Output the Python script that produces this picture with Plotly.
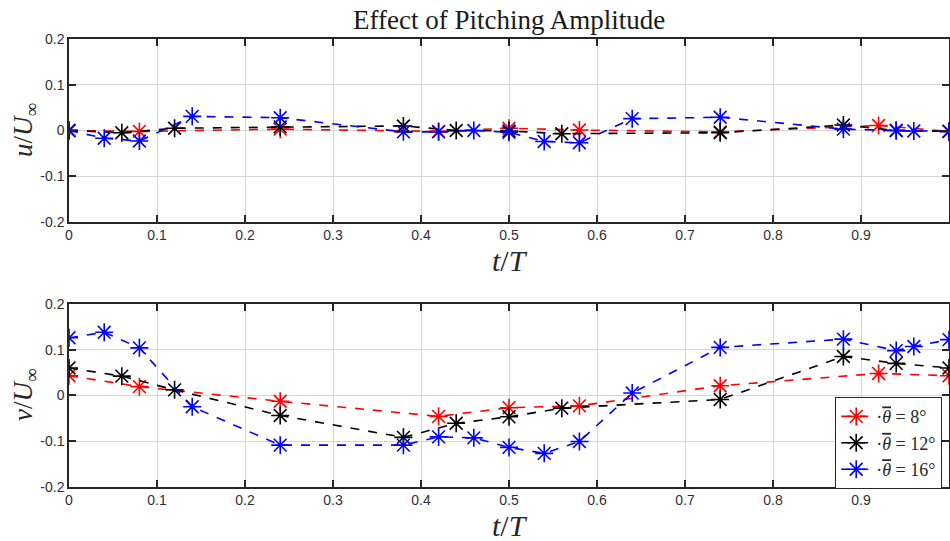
import plotly.graph_objects as go
from plotly.subplots import make_subplots

# Sample times (fraction of the pitching period) for each mean pitch angle
t_8 = [0.0, 0.08, 0.24, 0.42, 0.50, 0.58, 0.74, 0.92, 1.0]
t_12 = [0.0, 0.06, 0.12, 0.24, 0.38, 0.44, 0.50, 0.56, 0.74, 0.88, 0.94, 1.0]
t_16 = [0.0, 0.04, 0.08, 0.14, 0.24, 0.38, 0.42, 0.46, 0.50, 0.54, 0.58, 0.64,
        0.74, 0.88, 0.94, 0.96, 1.0]

# Streamwise velocity u/U_inf
u_8 = [0.0, -0.002, 0.003, -0.002, 0.005, 0.001, -0.003, 0.011, -0.002]
u_12 = [0.0, -0.005, 0.005, 0.008, 0.010, 0.0, -0.001, -0.007, -0.005, 0.012,
        0.0, -0.002]
u_16 = [0.0, -0.017, -0.023, 0.031, 0.028, -0.003, -0.003, 0.0, -0.004, -0.024,
        -0.027, 0.026, 0.029, 0.003, 0.0, -0.001, -0.002]

# Transverse velocity v/U_inf
v_8 = [0.043, 0.019, -0.013, -0.046, -0.027, -0.023, 0.021, 0.048, 0.043]
v_12 = [0.060, 0.042, 0.012, -0.044, -0.092, -0.061, -0.047, -0.028, -0.009,
        0.085, 0.070, 0.060]
v_16 = [0.126, 0.138, 0.104, -0.025, -0.109, -0.109, -0.091, -0.093, -0.114,
        -0.127, -0.101, 0.005, 0.105, 0.123, 0.098, 0.107, 0.122]

theta_bar = '<span style="text-decoration:overline"><i>\u03b8</i></span>'
series_names = ["\u00b7" + theta_bar + " = 8\u00b0",
                "\u00b7" + theta_bar + " = 12\u00b0",
                "\u00b7" + theta_bar + " = 16\u00b0"]
series_colors = ["#ff0000", "#000000", "#0000ff"]

x_ticks = [0, 0.1, 0.2, 0.3, 0.4, 0.5, 0.6, 0.7, 0.8, 0.9, 1.0]
x_ticktext = ["0", "0.1", "0.2", "0.3", "0.4", "0.5", "0.6", "0.7", "0.8", "0.9", "1"]
y_ticks = [-0.2, -0.1, 0, 0.1, 0.2]
y_ticktext = ["-0.2", "-0.1", "0", "0.1", "0.2"]

W, H = 950, 541
L, R = 69, 1


def py(px):
    return 1 - px / H


def pxx(px):
    return (px - L) / (W - L - R)


fig = make_subplots(rows=2, cols=1)

times = [t_8, t_12, t_16]
u_all = [u_8, u_12, u_16]
v_all = [v_8, v_12, v_16]

for row, data in ((1, u_all), (2, v_all)):
    for i in range(3):
        fig.add_trace(
            go.Scatter(
                x=times[i], y=data[i], mode="lines+markers",
                name=series_names[i],
                showlegend=(row == 2),
                line=dict(color=series_colors[i], width=1.6, dash="dash"),
                marker=dict(symbol="asterisk-open", size=15,
                            color=series_colors[i],
                            line=dict(color=series_colors[i], width=1.6)),
            ),
            row=row, col=1,
        )

axis_common = dict(
    showline=True, linecolor="#262626", linewidth=1.5, mirror="ticks",
    ticks="inside", ticklen=7, tickwidth=1.5, tickcolor="#262626",
    showgrid=True, gridcolor="#d6d6d6", gridwidth=1, zeroline=False,
    automargin=False,
    tickfont=dict(family="Liberation Sans, Arial", size=14, color="#303030"),
)

fig.update_xaxes(range=[0, 1], tickvals=x_ticks, ticktext=x_ticktext, **axis_common)
fig.update_yaxes(range=[-0.2, 0.2], tickvals=y_ticks, ticktext=y_ticktext, **axis_common)

fig.update_layout(
    width=W, height=H, autosize=False,
    margin=dict(l=L, r=R, t=0, b=0, pad=0, autoexpand=False),
    paper_bgcolor="white", plot_bgcolor="white",
    xaxis=dict(domain=[0, 1]),
    yaxis=dict(domain=[py(221.7), py(39.3)]),
    xaxis2=dict(domain=[0, 1]),
    yaxis2=dict(domain=[py(486.7), py(304.0)]),
    legend=dict(
        x=pxx(835), y=py(397), xanchor="left", yanchor="top",
        bgcolor="white", bordercolor="#262626", borderwidth=1.2,
        font=dict(family="Liberation Serif, serif", size=18, color="#262626"),
        tracegroupgap=0, itemwidth=30,
    ),
    showlegend=True,
)

serif = "Liberation Serif, DejaVu Serif, serif"
annotations = [
    dict(text="Effect of Pitching Amplitude", x=0.5, y=py(20), xref="paper", yref="paper",
         showarrow=False, font=dict(family=serif, size=27, color="#1a1a1a"),
         xanchor="center", yanchor="middle"),
    dict(text="<i>t</i>/<i>T</i>", x=pxx(510), y=py(260), xref="paper", yref="paper",
         showarrow=False, font=dict(family=serif, size=30, color="#262626"),
         xanchor="center", yanchor="middle"),
    dict(text="<i>t</i>/<i>T</i>", x=pxx(510), y=py(525), xref="paper", yref="paper",
         showarrow=False, font=dict(family=serif, size=30, color="#262626"),
         xanchor="center", yanchor="middle"),
    dict(text="<i>u</i>/<i>U</i><sub>\u221e</sub>", x=pxx(25), y=py(130), xref="paper",
         yref="paper", showarrow=False, textangle=-90,
         font=dict(family=serif, size=27, color="#262626"),
         xanchor="center", yanchor="middle"),
    dict(text="<i>v</i>/<i>U</i><sub>\u221e</sub>", x=pxx(25), y=py(395), xref="paper",
         yref="paper", showarrow=False, textangle=-90,
         font=dict(family=serif, size=27, color="#262626"),
         xanchor="center", yanchor="middle"),
]
fig.update_layout(annotations=annotations)

fig.write_html("out.html")
